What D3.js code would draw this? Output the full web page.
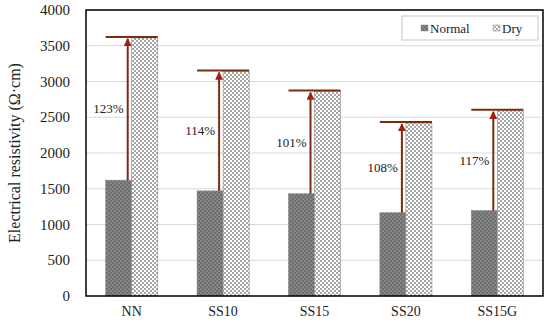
<!DOCTYPE html>
<html>
<head>
<meta charset="utf-8">
<script src="https://cdn.jsdelivr.net/npm/d3@7"></script>
<style>
  body { margin: 0; background: #fff; }
</style>
</head>
<body>
<svg id="chart"></svg>
<script>
const categories = ['NN', 'SS10', 'SS15', 'SS20', 'SS15G'];
const normalValues = [1620, 1470, 1430, 1165, 1195];
const dryValues = [3610, 3140, 2860, 2420, 2590];
const increaseLabels = ['123%', '114%', '101%', '108%', '117%'];
const yTicks = [0, 500, 1000, 1500, 2000, 2500, 3000, 3500, 4000];

const W = 550, H = 326;
const margin = { top: 10, right: 7, bottom: 30, left: 86 };
const svg = d3.select('#chart').attr('width', W).attr('height', H)
  .attr('font-family', '"Liberation Serif", "DejaVu Serif", serif');

// patterns
const defs = svg.append('defs');
const pN = defs.append('pattern').attr('id', 'pNormal')
  .attr('width', 4).attr('height', 4).attr('patternUnits', 'userSpaceOnUse');
pN.append('rect').attr('width', 4).attr('height', 4).attr('fill', '#6e6e6e');
pN.append('circle').attr('cx', 1).attr('cy', 1).attr('r', 0.6).attr('fill', '#d8d8d8');
pN.append('circle').attr('cx', 3).attr('cy', 3).attr('r', 0.6).attr('fill', '#d8d8d8');
const pD = defs.append('pattern').attr('id', 'pDry')
  .attr('width', 4).attr('height', 4).attr('patternUnits', 'userSpaceOnUse');
pD.append('rect').attr('width', 4).attr('height', 4).attr('fill', '#fff');
pD.append('circle').attr('cx', 1).attr('cy', 1).attr('r', 0.9).attr('fill', '#7a7a7a');
pD.append('circle').attr('cx', 3).attr('cy', 3).attr('r', 0.9).attr('fill', '#7a7a7a');
defs.append('marker').attr('id', 'arrow')
  .attr('viewBox', '0 0 10 10').attr('refX', 9).attr('refY', 5)
  .attr('markerWidth', 4).attr('markerHeight', 4).attr('orient', 'auto')
  .append('path').attr('d', 'M0,0 L10,5 L0,10 z').attr('fill', '#a0200f');

const x = d3.scaleBand().domain(categories)
  .range([margin.left, W - margin.right]).paddingInner(0.43).paddingOuter(0.215);
const y = d3.scaleLinear().domain([0, 4000]).range([H - margin.bottom, margin.top]);
const bw = x.bandwidth() / 2;

// gridlines
svg.append('g').selectAll('line').data(yTicks.slice(1)).join('line')
  .attr('x1', margin.left).attr('x2', W - margin.right)
  .attr('y1', d => y(d)).attr('y2', d => y(d))
  .attr('stroke', '#d9d9d9').attr('stroke-width', 1);

// bars
const g = svg.append('g');
g.selectAll('.n').data(categories).join('rect')
  .attr('x', d => x(d)).attr('width', bw)
  .attr('y', (d, i) => y(normalValues[i]))
  .attr('height', (d, i) => y(0) - y(normalValues[i]))
  .attr('fill', 'url(#pNormal)').attr('stroke', '#8a8a8a').attr('stroke-width', 0.6);
g.selectAll('.d').data(categories).join('rect')
  .attr('x', d => x(d) + bw).attr('width', bw)
  .attr('y', (d, i) => y(dryValues[i]))
  .attr('height', (d, i) => y(0) - y(dryValues[i]))
  .attr('fill', 'url(#pDry)').attr('stroke', '#8a8a8a').attr('stroke-width', 0.6);

// arrows and top markers
const ann = svg.append('g');
categories.forEach((c, i) => {
  const ax = x(c) + bw - 4;
  ann.append('line')
    .attr('x1', x(c)).attr('x2', x(c) + 2 * bw)
    .attr('y1', y(dryValues[i]) - 1).attr('y2', y(dryValues[i]) - 1)
    .attr('stroke', '#7b2d12').attr('stroke-width', 2);
  ann.append('line')
    .attr('x1', ax).attr('x2', ax)
    .attr('y1', y(normalValues[i])).attr('y2', y(dryValues[i]) + 1)
    .attr('stroke', '#7b2d12').attr('stroke-width', 2)
    .attr('marker-end', 'url(#arrow)');
  ann.append('text')
    .attr('x', ax - 4)
    .attr('y', (y(normalValues[i]) + y(dryValues[i])) / 2 + 4)
    .attr('text-anchor', 'end').attr('font-size', 13).attr('fill', '#222')
    .text(increaseLabels[i]);
});

// frame
svg.append('rect')
  .attr('x', margin.left).attr('y', margin.top)
  .attr('width', W - margin.left - margin.right)
  .attr('height', H - margin.top - margin.bottom)
  .attr('fill', 'none').attr('stroke', '#000').attr('stroke-width', 1.5);

// y axis labels
svg.append('g').selectAll('text').data(yTicks).join('text')
  .attr('x', margin.left - 16).attr('y', d => y(d) + 5)
  .attr('text-anchor', 'end').attr('font-size', 15).attr('fill', '#222')
  .text(d => d);

// x axis labels
svg.append('g').selectAll('text').data(categories).join('text')
  .attr('x', d => x(d) + x.bandwidth() / 2).attr('y', H - 10)
  .attr('text-anchor', 'middle').attr('font-size', 14).attr('fill', '#222')
  .text(d => d);

svg.append('text')
  .attr('transform', `translate(20,${(margin.top + H - margin.bottom) / 2}) rotate(-90)`)
  .attr('text-anchor', 'middle').attr('font-size', 16).attr('fill', '#222')
  .text('Electrical resistivity (Ω·cm)');

// legend
const lg = svg.append('g');
lg.append('rect').attr('x', 402).attr('y', 16).attr('width', 136).attr('height', 24)
  .attr('fill', '#fff').attr('stroke', '#c8c8c8');
lg.append('rect').attr('x', 421).attr('y', 25).attr('width', 7).attr('height', 6)
  .attr('fill', 'url(#pNormal)').attr('stroke', '#888').attr('stroke-width', 0.5);
lg.append('text').attr('x', 430).attr('y', 33).attr('font-size', 13).attr('fill', '#222').text('Normal');
lg.append('rect').attr('x', 493).attr('y', 25).attr('width', 7).attr('height', 6)
  .attr('fill', 'url(#pDry)').attr('stroke', '#888').attr('stroke-width', 0.5);
lg.append('text').attr('x', 502).attr('y', 33).attr('font-size', 13).attr('fill', '#222').text('Dry');
</script>
</body>
</html>
